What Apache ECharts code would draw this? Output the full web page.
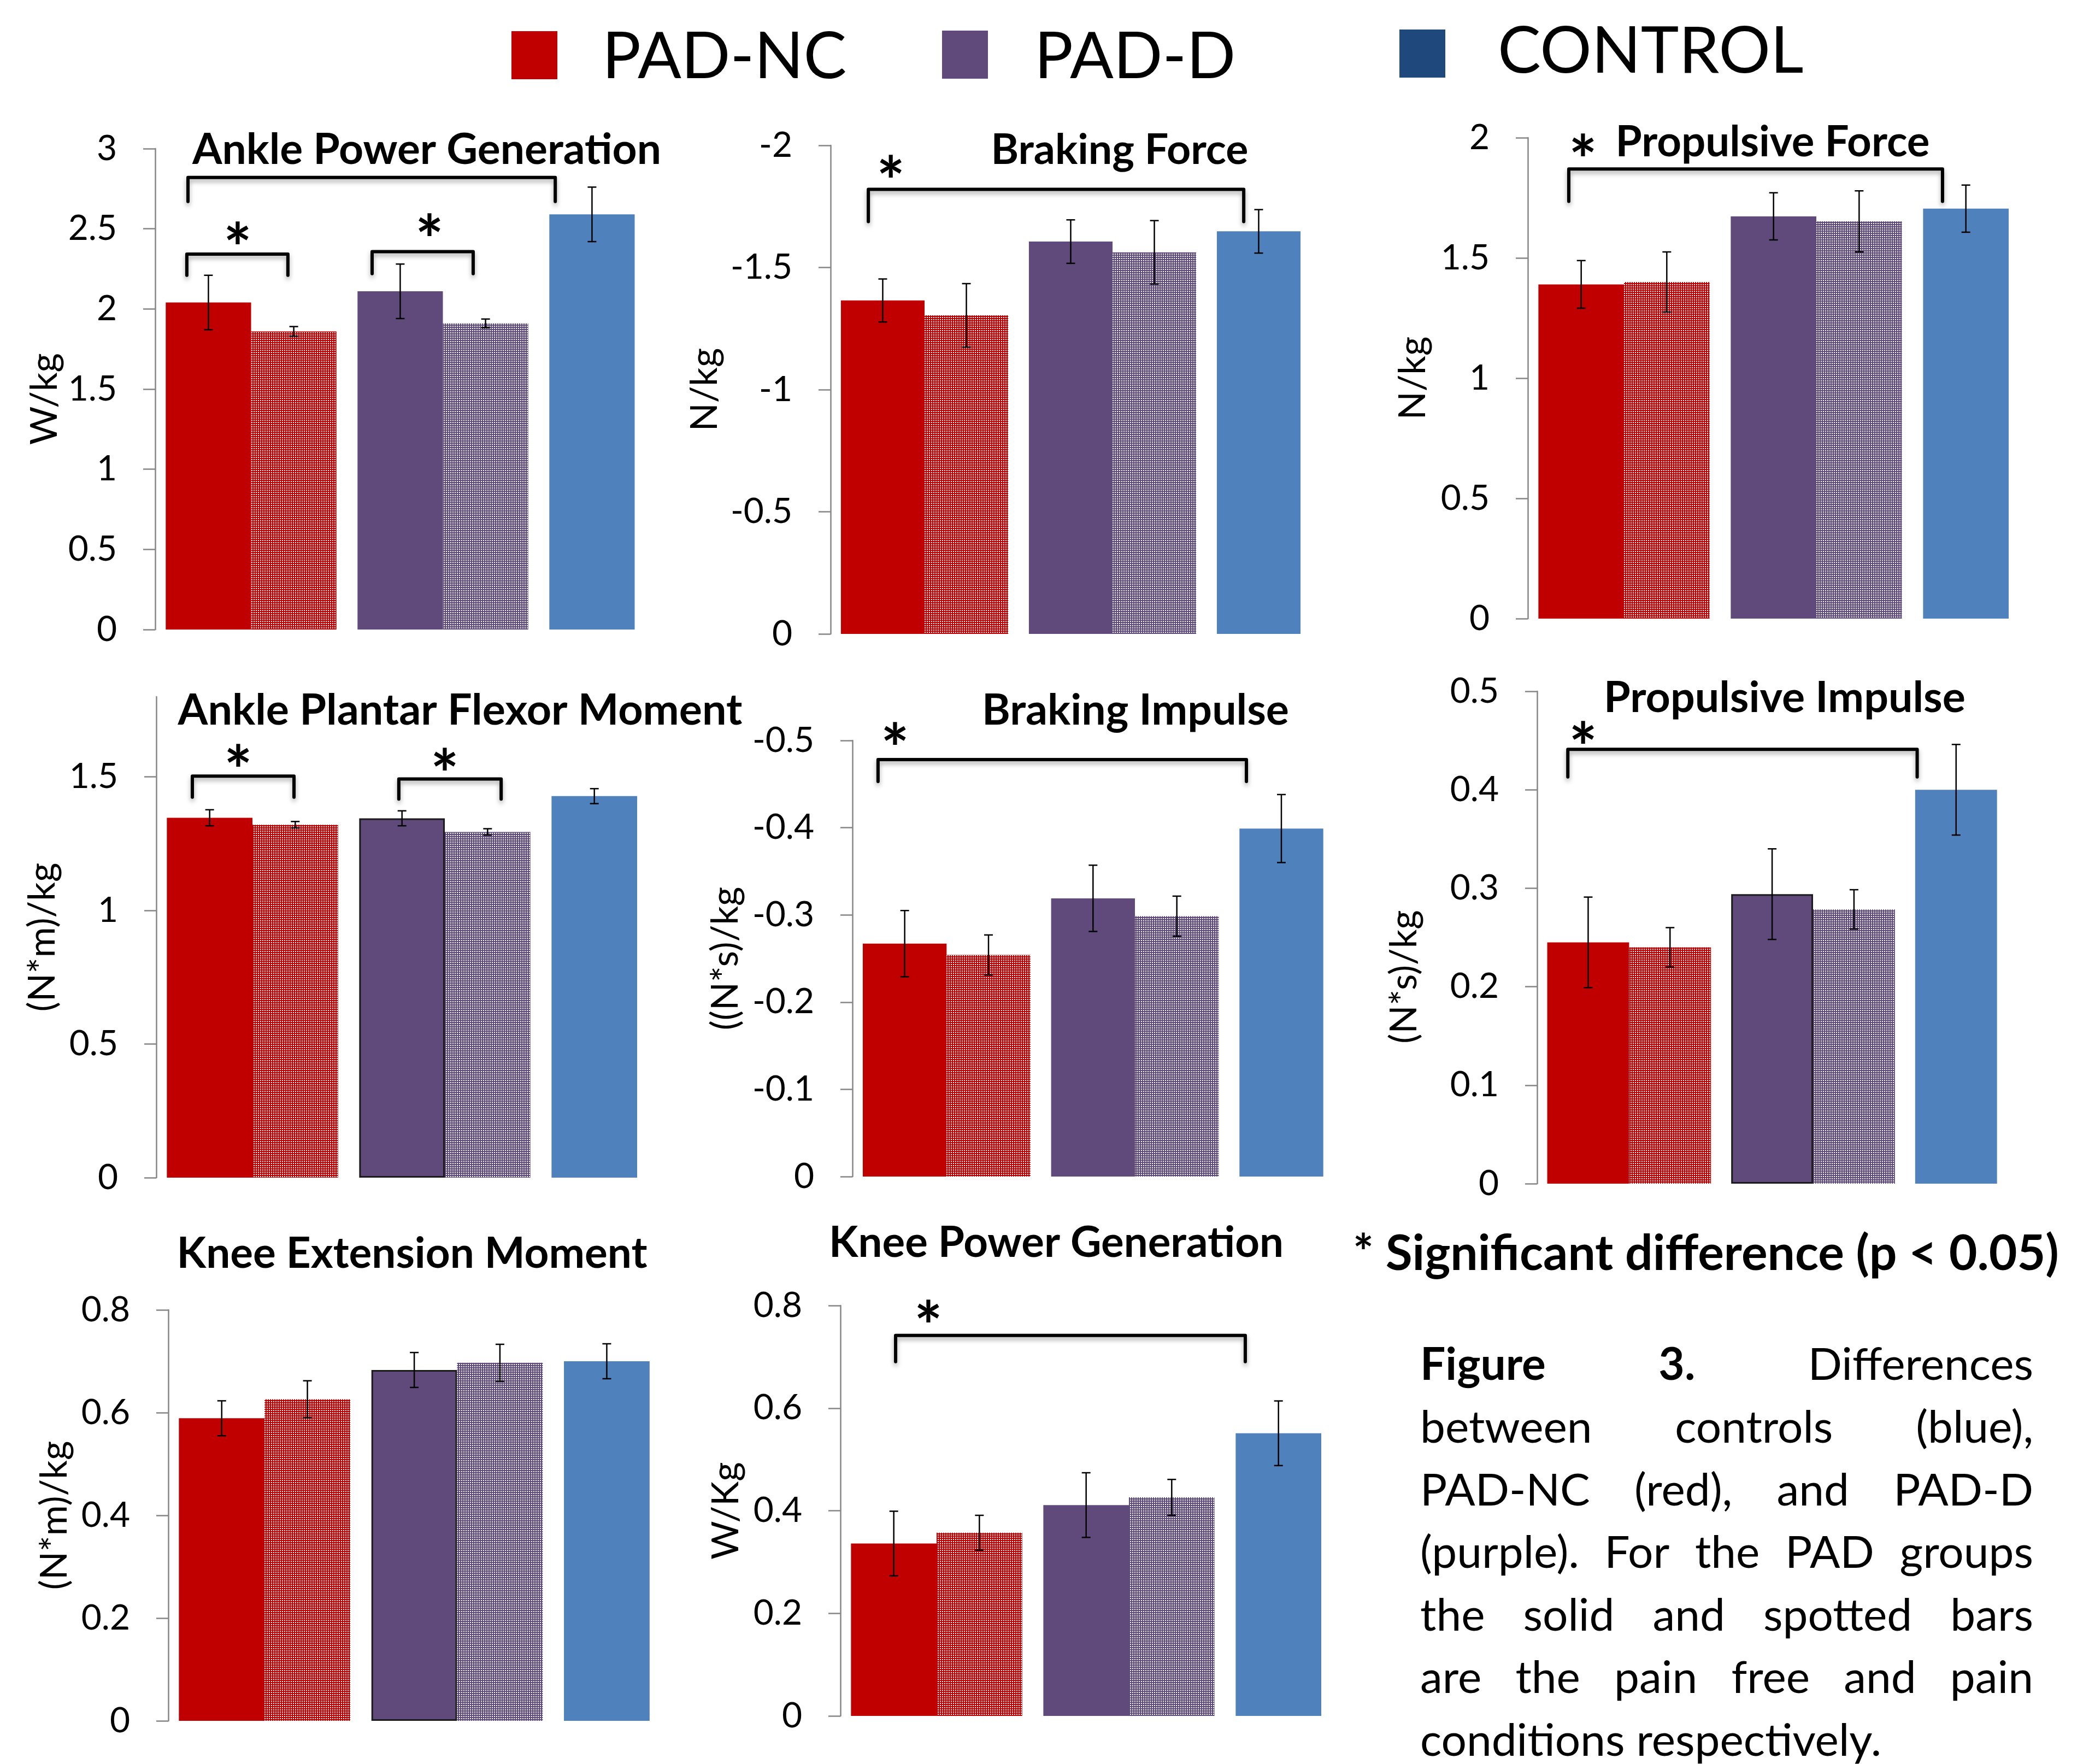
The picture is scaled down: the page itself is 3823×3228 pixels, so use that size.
<!DOCTYPE html>
<html>
<head>
<meta charset="utf-8">
<title>Figure 3</title>
<script src="https://cdn.jsdelivr.net/npm/echarts@6.0.0/dist/echarts.min.js"></script>
<style>
html, body { margin: 0; padding: 0; background: #fff; }
#chart { width: 3823px; height: 3228px; }
</style>
</head>
<body>
<div id="chart"></div>
<script>
// groups on each x axis; control only has the solid bar
const groups = ['PAD-NC', 'PAD-D', 'CONTROL']

// Ankle Power Generation (W/kg)
const apgFree = [2.04, 2.11, 2.59]
const apgFreeErr = [0.17, 0.17, 0.17]
const apgPain = [1.86, 1.91, null]
const apgPainErr = [0.03, 0.027, null]
const apgTicks = [0, 0.5, 1, 1.5, 2, 2.5, 3]
const apgBrackets = [[-0.329, 1.586, 2.82, 2.67], [-0.335, 0.192, 2.342, 2.21], [0.631, 1.158, 2.357, 2.22]]
const apgStars = [[-0.07, 2.448], [0.93, 2.499]]

// Braking Force (N/kg)
const bfFree = [-1.365, -1.606, -1.648]
const bfFreeErr = [0.088, 0.089, 0.089]
const bfPain = [-1.304, -1.562, null]
const bfPainErr = [0.13, 0.13, null]
const bfTicks = [-2, -1.5, -1, -0.5, 0]
const bfBrackets = [[-0.299, 1.698, -1.82, -1.688]]
const bfStars = [[-0.18, -1.897]]

// Propulsive Force (N/kg)
const pfFree = [1.39, 1.673, 1.705]
const pfFreeErr = [0.099, 0.098, 0.098]
const pfPain = [1.4, 1.652, null]
const pfPainErr = [0.125, 0.127, null]
const pfTicks = [0, 0.5, 1, 1.5, 2]
const pfBrackets = [[-0.287, 1.656, 1.87, 1.735]]
const pfStars = [[-0.213, 1.952]]

// Ankle Plantar Flexor Moment ((N*m)/kg)
const apfFree = [1.347, 1.345, 1.428]
const apfFreeErr = [0.03, 0.028, 0.028]
const apfPain = [1.321, 1.294, null]
const apfPainErr = [0.012, 0.012, null]
const apfTicks = [0, 0.5, 1, 1.5]
const apfBrackets = [[-0.3125, 0.216, 1.503, 1.424], [0.761, 1.293, 1.492, 1.417]]
const apfStars = [[-0.074, 1.565], [1.0, 1.549]]

// Braking Impulse ((N*s)/kg)
const biFree = [-0.267, -0.319, -0.399]
const biFreeErr = [0.038, 0.038, 0.039]
const biPain = [-0.254, -0.2985, null]
const biPainErr = [0.023, 0.023, null]
const biTicks = [-0.5, -0.4, -0.3, -0.2, -0.1, 0]
const biBrackets = [[-0.364, 1.592, -0.478, -0.453]]
const biStars = [[-0.274, -0.503]]

// Propulsive Impulse ((N*s)/kg)
const piFree = [0.245, 0.294, 0.4]
const piFreeErr = [0.046, 0.046, 0.046]
const piPain = [0.24, 0.2785, null]
const piPainErr = [0.02, 0.02, null]
const piTicks = [0, 0.1, 0.2, 0.3, 0.4, 0.5]
const piBrackets = [[-0.333, 1.566, 0.441, 0.413]]
const piStars = [[-0.25, 0.454]]

// Knee Extension Moment ((N*m)/kg)
const kemFree = [0.589, 0.683, 0.7]
const kemFreeErr = [0.034, 0.034, 0.034]
const kemPain = [0.626, 0.697, null]
const kemPainErr = [0.036, 0.036, null]
const kemTicks = [0, 0.2, 0.4, 0.6, 0.8]

// Knee Power Generation (W/Kg)
const kpgFree = [0.336, 0.411, 0.551]
const kpgFreeErr = [0.063, 0.063, 0.063]
const kpgPain = [0.357, 0.426, null]
const kpgPainErr = [0.034, 0.035, null]
const kpgTicks = [0, 0.2, 0.4, 0.6, 0.8]
const kpgBrackets = [[-0.213, 1.605, 0.7416, 0.6906]]
const kpgStars = [[-0.043, 0.781]]

const captionLines = [
  'Figure 3. Differences',
  'between controls (blue),',
  'PAD-NC (red), and PAD-D',
  '(purple). For the PAD groups',
  'the solid and spotted bars',
  'are the pain free and pain',
  'conditions respectively.',
]

const RED = '#C00000'
const PURPLE = '#604A7B'
const BLUE = '#4F81BD'
const SOLID = [RED, PURPLE, BLUE]
const FONT = 'Lato'
const GAP = 0.11 // barCategoryGap
const STAR_SIZE = 122

// white spots on the bar colour
const makeDots = (color) => {
  const c = document.createElement('canvas')
  c.width = 4
  c.height = 4
  const ctx = c.getContext('2d')
  ctx.fillStyle = color
  ctx.fillRect(0, 0, 4, 4)
  ctx.fillStyle = '#fff'
  ctx.fillRect(0, 0, 2, 2)
  return { image: c, repeat: 'repeat' }
}
const SPOTTED = [makeDots(RED), makeDots(PURPLE), null]

const measureCtx = document.createElement('canvas').getContext('2d')
const textWidth = (str, size, bold) => {
  measureCtx.font = (bold ? 'bold ' : '') + size + 'px ' + FONT
  return measureCtx.measureText(str).width
}
const fitSize = (str, bold, target, base) => {
  return Math.min(base * 1.15, base * target / textWidth(str, base, bold))
}

const panels = [
  {
    title: 'Ankle Power Generation', tx: 781, ty: 275, tw: 858,
    grid: { left: 284, top: 272, width: 1053, height: 880 },
    min: 0, max: 3, interval: 0.5, ticks: apgTicks, inverse: false,
    name: 'W/kg', nameGap: 168, nameShift: 18,
    free: apgFree, freeErr: apgFreeErr, pain: apgPain, painErr: apgPainErr,
    brackets: apgBrackets, stars: apgStars, outlined: false,
  },
  {
    title: 'Braking Force', tx: 2049, ty: 275, tw: 471,
    grid: { left: 1520, top: 266, width: 1032, height: 894 },
    min: -2, max: 0, interval: 0.5, ticks: bfTicks, inverse: true,
    name: 'N/kg', nameGap: 196, nameShift: 0,
    free: bfFree, freeErr: bfFreeErr, pain: bfPain, painErr: bfPainErr,
    brackets: bfBrackets, stars: bfStars, outlined: false,
  },
  {
    title: 'Propulsive Force', tx: 3244, ty: 261, tw: 575,
    grid: { left: 2796, top: 252, width: 1056, height: 880 },
    min: 0, max: 2, interval: 0.5, ticks: pfTicks, inverse: false,
    name: 'N/kg', nameGap: 176, nameShift: 0,
    free: pfFree, freeErr: pfFreeErr, pain: pfPain, painErr: pfPainErr,
    brackets: pfBrackets, stars: pfStars, outlined: false,
  },
  {
    title: 'Ankle Plantar Flexor Moment', tx: 842, ty: 1301, tw: 1033,
    grid: { left: 286, top: 1275, width: 1056, height: 880 },
    min: 0, max: 1.8, interval: 0.5, ticks: apfTicks, inverse: false,
    name: '(N*m)/kg', nameGap: 174, nameShift: 0,
    free: apfFree, freeErr: apfFreeErr, pain: apfPain, painErr: apfPainErr,
    brackets: apfBrackets, stars: apfStars, outlined: true,
  },
  {
    title: 'Braking Impulse', tx: 2078, ty: 1301, tw: 562,
    grid: { left: 1560, top: 1355, width: 1034, height: 798 },
    min: -0.5, max: 0, interval: 0.1, ticks: biTicks, inverse: true,
    name: '((N*s)/kg', nameGap: 198, nameShift: 0,
    free: biFree, freeErr: biFreeErr, pain: biPain, painErr: biPainErr,
    brackets: biBrackets, stars: biStars, outlined: false,
  },
  {
    title: 'Propulsive Impulse', tx: 3266, ty: 1278, tw: 662,
    grid: { left: 2813, top: 1265, width: 1010, height: 901 },
    min: 0, max: 0.5, interval: 0.1, ticks: piTicks, inverse: false,
    name: '(N*s)/kg', nameGap: 209, nameShift: 72,
    free: piFree, freeErr: piFreeErr, pain: piPain, painErr: piPainErr,
    brackets: piBrackets, stars: piStars, outlined: true,
  },
  {
    title: 'Knee Extension Moment', tx: 754, ty: 2295, tw: 861,
    grid: { left: 308, top: 2397, width: 1057, height: 752 },
    min: 0, max: 0.8, interval: 0.2, ticks: kemTicks, inverse: false,
    name: '(N*m)/kg', nameGap: 174, nameShift: 0,
    free: kemFree, freeErr: kemFreeErr, pain: kemPain, painErr: kemPainErr,
    brackets: [], stars: [], outlined: true,
  },
  {
    title: 'Knee Power Generation', tx: 1933, ty: 2275, tw: 832,
    grid: { left: 1538, top: 2389, width: 1056, height: 751 },
    min: 0, max: 0.8, interval: 0.2, ticks: kpgTicks, inverse: false,
    name: 'W/Kg', nameGap: 175, nameShift: 0,
    free: kpgFree, freeErr: kpgFreeErr, pain: kpgPain, painErr: kpgPainErr,
    brackets: kpgBrackets, stars: kpgStars, outlined: false,
  },
]

// error bars: [category, value, err, side]
const errData = (p) => {
  const out = []
  p.free.forEach((v, i) => { if (v != null) out.push([i, v, p.freeErr[i], -1]) })
  p.pain.forEach((v, i) => { if (v != null) out.push([i, v, p.painErr[i], 1]) })
  return out
}

const renderErr = (params, api) => {
  const cat = api.value(0)
  const val = api.value(1)
  const err = api.value(2)
  const side = api.value(3)
  const bw = api.size([1, 0])[0]
  const barW = bw * (1 - GAP) / 2
  const cx = api.coord([cat, 0])[0] + side * barW / 2
  const hi = api.coord([cat, val + err])[1]
  const lo = api.coord([cat, val - err])[1]
  const cap = 8
  const style = { stroke: '#000', lineWidth: 2.5 }
  return {
    type: 'group',
    children: [
      { type: 'line', shape: { x1: cx, y1: hi, x2: cx, y2: lo }, style },
      { type: 'line', shape: { x1: cx - cap, y1: hi, x2: cx + cap, y2: hi }, style },
      { type: 'line', shape: { x1: cx - cap, y1: lo, x2: cx + cap, y2: lo }, style },
    ],
  }
}

const chart = echarts.init(document.getElementById('chart'), null, { renderer: 'canvas' })

const option = {
  animation: false,
  backgroundColor: '#fff',
  grid: [],
  xAxis: [],
  yAxis: [],
  series: [],
  graphic: [],
}

panels.forEach((p, i) => {
  option.grid.push({ ...p.grid, containLabel: false, outerBoundsMode: 'none' })
  option.xAxis.push({ type: 'category', gridIndex: i, data: groups, show: false })
  option.yAxis.push({
    type: 'value',
    gridIndex: i,
    min: p.min,
    max: p.max,
    interval: p.interval,
    inverse: p.inverse,
    splitLine: { show: false },
    axisLine: { show: true, lineStyle: { color: '#868686', width: 2.5 } },
    axisTick: { show: true, length: 22, customValues: p.ticks, lineStyle: { color: '#868686', width: 2.5 } },
    axisLabel: { margin: 70, fontSize: 64, fontFamily: FONT, color: '#000', customValues: p.ticks },
    name: p.name,
    nameLocation: 'middle',
    nameRotate: 90,
    nameGap: p.nameGap,
    nameTextStyle: { fontSize: 68, fontFamily: FONT, color: '#000', padding: [0, p.nameShift * 2, 0, 0] },
  })

  // solid = pain free, spotted = pain
  option.series.push({
    type: 'bar',
    name: p.title + ' pain free',
    xAxisIndex: i,
    yAxisIndex: i,
    barGap: '0%',
    barCategoryGap: GAP * 100 + '%',
    data: p.free.map((v, g) => ({
      value: v,
      itemStyle: {
        color: SOLID[g],
        borderColor: p.outlined && g === 1 ? '#1b1b1b' : SOLID[g],
        borderWidth: p.outlined && g === 1 ? 3 : 0,
      },
    })),
  })
  option.series.push({
    type: 'bar',
    name: p.title + ' pain',
    xAxisIndex: i,
    yAxisIndex: i,
    barGap: '0%',
    barCategoryGap: GAP * 100 + '%',
    data: p.pain.map((v, g) => ({ value: v, itemStyle: { color: SPOTTED[g] || SOLID[g] } })),
  })
  option.series.push({
    type: 'custom',
    xAxisIndex: i,
    yAxisIndex: i,
    z: 5,
    data: errData(p),
    encode: { x: 0, y: 1 },
    renderItem: renderErr,
  })
  // significance brackets
  option.series.push({
    type: 'custom',
    xAxisIndex: i,
    yAxisIndex: i,
    z: 6,
    clip: false,
    data: p.brackets.map((b) => [0, b[2]]),
    encode: { x: 0, y: 1 },
    renderItem: (params, api) => {
      const b = p.brackets[params.dataIndex]
      const x0 = api.coord([0, b[2]])[0]
      const bw = api.size([1, 0])[0]
      const yTop = api.coord([0, b[2]])[1]
      const yEnd = api.coord([0, b[3]])[1]
      const x1 = x0 + b[0] * bw
      const x2 = x0 + b[1] * bw
      return {
        type: 'polyline',
        shape: { points: [[x1, yEnd], [x1, yTop], [x2, yTop], [x2, yEnd]] },
        style: {
          stroke: '#000',
          fill: null,
          lineWidth: 6,
          lineJoin: 'round',
          lineCap: 'round',
          shadowBlur: 8,
          shadowOffsetY: 5,
          shadowColor: 'rgba(0,0,0,0.35)',
        },
      }
    },
  })
  option.series.push({
    type: 'custom',
    xAxisIndex: i,
    yAxisIndex: i,
    z: 6,
    clip: false,
    data: p.stars.map((s) => [0, s[1]]),
    encode: { x: 0, y: 1 },
    renderItem: (params, api) => {
      const s = p.stars[params.dataIndex]
      const c = api.coord([0, s[1]])
      const bw = api.size([1, 0])[0]
      return {
        type: 'text',
        x: c[0] + s[0] * bw,
        y: c[1] + STAR_SIZE * 0.2,
        style: {
          text: '*',
          fontSize: STAR_SIZE,
          fontWeight: 'bold',
          fontFamily: FONT,
          fill: '#000',
          align: 'center',
          verticalAlign: 'middle',
        },
      }
    },
  })

  option.graphic.push({
    type: 'text',
    x: p.tx,
    y: p.ty,
    style: {
      text: p.title,
      fontSize: fitSize(p.title, true, p.tw, 78),
      fontWeight: 'bold',
      fontFamily: FONT,
      fill: '#000',
      align: 'center',
      verticalAlign: 'middle',
    },
  })
})

// legend across the top
const legendItems = [
  { label: 'PAD-NC', color: RED, sx: 936, sy: 57, tx: 1102, ty: 105 },
  { label: 'PAD-D', color: PURPLE, sx: 1724, sy: 56, tx: 1893, ty: 105 },
  { label: 'CONTROL', color: '#1F497D', sx: 2561, sy: 54, tx: 2741, ty: 95 },
]
legendItems.forEach((it) => {
  option.graphic.push({ type: 'rect', shape: { x: it.sx, y: it.sy, width: 84, height: 88 }, style: { fill: it.color } })
  option.graphic.push({
    type: 'text',
    x: it.tx,
    y: it.ty,
    style: { text: it.label, fontSize: 118, fontFamily: FONT, fill: '#000', align: 'left', verticalAlign: 'middle' },
  })
})

// caption block
const sigText = '* Significant difference (p < 0.05)'
option.graphic.push({
  type: 'text',
  x: 2476,
  y: 2295,
  style: {
    text: sigText,
    fontSize: fitSize(sigText, true, 1292, 88),
    fontWeight: 'bold',
    fontFamily: FONT,
    fill: '#000',
    align: 'left',
    verticalAlign: 'middle',
  },
})

// justified paragraph
const capSize = 82
const capLeft = 2599
const capRight = 3721
captionLines.forEach((line, li) => {
  const words = line.split(' ')
  const bold = words.map((w, wi) => li === 0 && wi < 2)
  const widths = words.map((w, wi) => textWidth(w, capSize, bold[wi]))
  const total = widths.reduce((a, b) => a + b, 0)
  const space = textWidth(' ', capSize, false)
  const last = li === captionLines.length - 1
  const gap = last ? space : Math.max(space * 0.8, (capRight - capLeft - total) / (words.length - 1))
  let x = capLeft
  words.forEach((w, wi) => {
    option.graphic.push({
      type: 'text',
      x,
      y: 2499 + li * 114.6,
      style: {
        text: w,
        fontSize: capSize,
        fontWeight: bold[wi] ? 'bold' : 'normal',
        fontFamily: FONT,
        fill: '#000',
        align: 'left',
        verticalAlign: 'middle',
      },
    })
    x += widths[wi] + gap
  })
})

chart.setOption(option)
</script>
</body>
</html>
